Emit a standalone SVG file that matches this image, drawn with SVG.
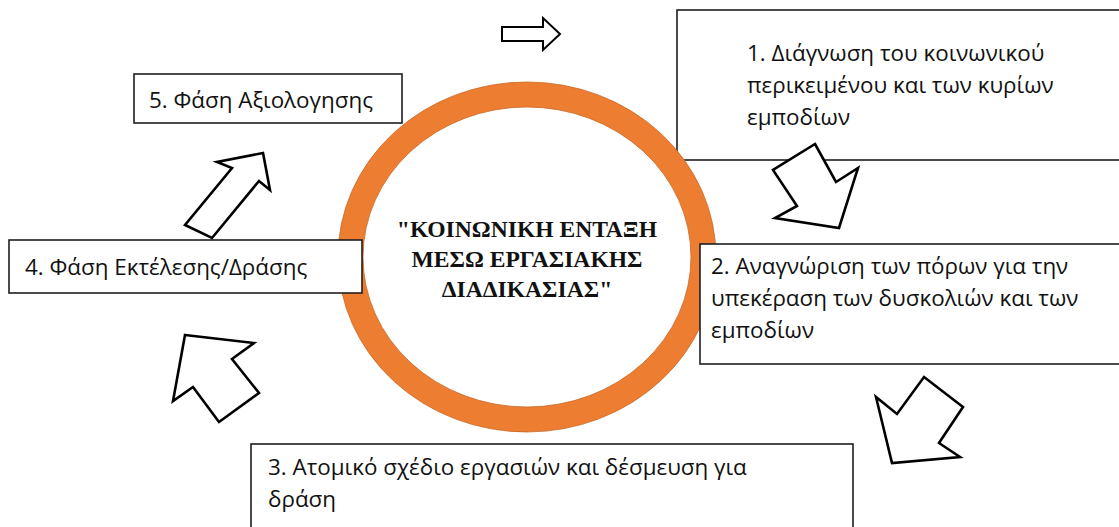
<svg xmlns="http://www.w3.org/2000/svg" width="1119" height="527" viewBox="0 0 1119 527">
<style>
.box{fill:#fff;stroke:#1e1e1e;stroke-width:1.6}
.t{font-family:"Open Sans","Liberation Sans",sans-serif;font-size:22.4px;fill:#111}
.c{font-family:"Liberation Serif","Times New Roman",serif;font-size:23.6px;font-weight:bold;fill:#111;text-anchor:middle}
.arr{fill:#fff;stroke:#000;stroke-width:2.6;stroke-linejoin:miter}
</style>
<rect width="1119" height="527" fill="#fff"/>
<g id="box1">
<rect class="box" x="677" y="10" width="460" height="150"/>
<text class="t"><tspan x="747" y="61">1. Διάγνωση του κοινωνικού</tspan><tspan x="747" y="93">περικειμένου και των κυρίων</tspan><tspan x="747" y="125">εμποδίων</tspan></text>
</g>
<g id="center">
<ellipse cx="527" cy="257" rx="176.5" ry="162.5" fill="#fff" stroke="#ED7D31" stroke-width="25"/>
<ellipse cx="527" cy="257" rx="189" ry="175" fill="none" stroke="#C8692A" stroke-width="0.8"/>
<ellipse cx="527" cy="257" rx="164" ry="150" fill="none" stroke="#C8692A" stroke-width="0.8"/>
<text class="c"><tspan x="527" y="237">"ΚΟΙΝΩΝΙΚΗ ΕΝΤΑΞΗ</tspan><tspan x="527" y="267">ΜΕΣΩ ΕΡΓΑΣΙΑΚΗΣ</tspan><tspan x="527" y="297">ΔΙΑΔΙΚΑΣΙΑΣ"</tspan></text>
</g>
<g id="box2">
<rect class="box" x="700" y="244" width="440" height="120"/>
<text class="t"><tspan x="711" y="274">2. Αναγνώριση των πόρων για την</tspan><tspan x="711" y="306">υπεκέραση των δυσκολιών και των</tspan><tspan x="711" y="338">εμποδίων</tspan></text>
</g>
<g id="box4">
<rect class="box" x="9" y="240" width="353" height="53"/>
<text class="t" x="25" y="275">4. Φάση Εκτέλεσης/Δράσης</text>
</g>
<g id="box5">
<rect class="box" x="134" y="74" width="268" height="49"/>
<text class="t" x="149" y="108">5. Φάση Αξιολογησης</text>
</g>
<g id="box3">
<rect class="box" x="251" y="444" width="602" height="100"/>
<text class="t"><tspan x="268" y="475">3. Ατομικό σχέδιο εργασιών και δέσμευση για</tspan><tspan x="268" y="507">δράση</tspan></text>
</g>
<g id="connectors">
<polygon class="arr" style="stroke-width:2" points="502,27 543,27 543,18 560,34 543,50 543,41 502,41"/>
<polygon class="arr" points="815,144 836,182 858,168 839,228 775,218 797,206 773,170"/>
<polygon class="arr" points="924,377 963,407 939,443 960,457 892,463 876,397 897,414"/>
<polygon class="arr" points="185,335 254,343 232,359 259,393 219,422 193,387 173,401"/>
<polygon class="arr" points="263,153 270,190 259,181 212,238 185,225 232,168 217,162"/>
</g>
</svg>
